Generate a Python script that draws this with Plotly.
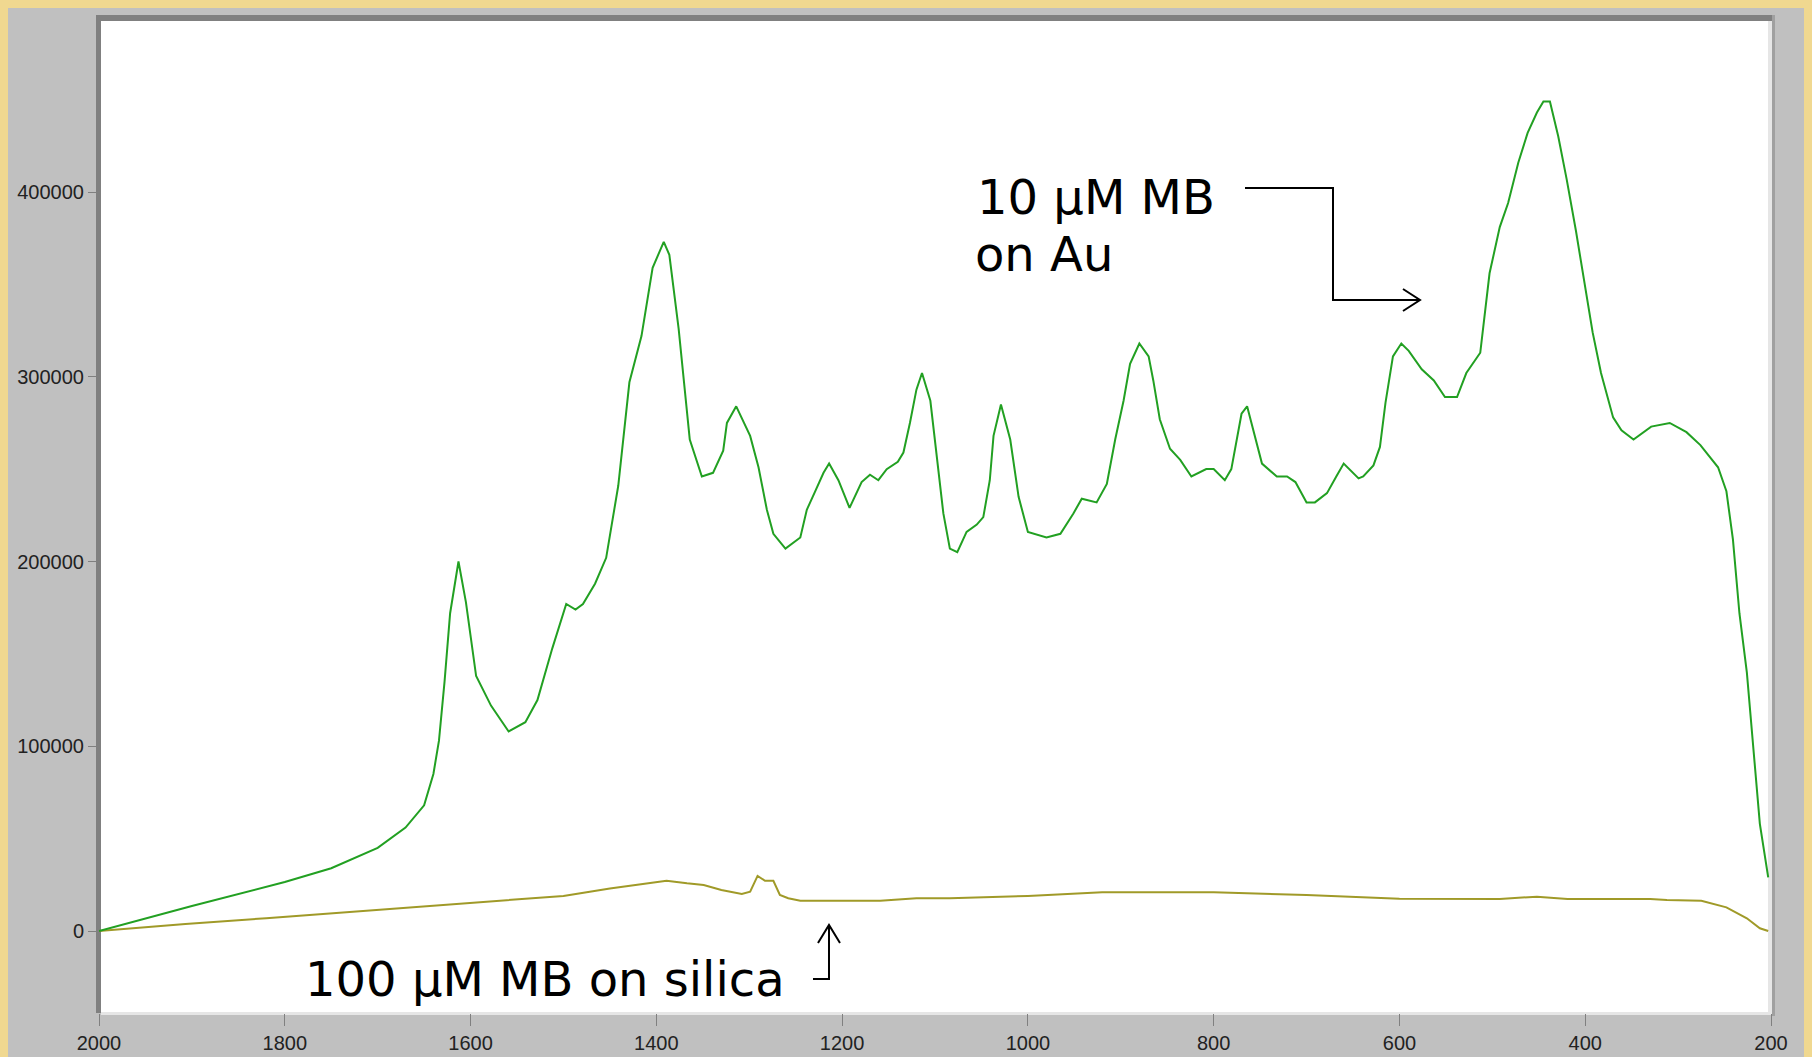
import plotly.graph_objects as go

# ---------------- data ----------------
wavenumber_au = [2000, 1900, 1800, 1750, 1700, 1670, 1650, 1640, 1634, 1628, 1622, 1613,
                 1605, 1594, 1578, 1559, 1541, 1528, 1512, 1497, 1487, 1479, 1466, 1454,
                 1441, 1429, 1416, 1404, 1392, 1386, 1376, 1364, 1351, 1339, 1328, 1324,
                 1314, 1299, 1290, 1281, 1274, 1261, 1245, 1238, 1229, 1220, 1214, 1204,
                 1192, 1179, 1170, 1161, 1152, 1140, 1134, 1127, 1120, 1114, 1105, 1098,
                 1091, 1084, 1076, 1066, 1055, 1048, 1041, 1037, 1029, 1019, 1010, 1000,
                 980, 965, 951, 942, 926, 915, 906, 897, 890, 880, 870, 865, 858, 847, 836,
                 824, 808, 800, 788, 781, 775, 770, 764, 757, 748, 732, 721, 712, 700, 691,
                 678, 668, 660, 644, 639, 628, 621, 615, 607, 598, 590, 576, 563, 551, 538,
                 528, 513, 503, 492, 483, 472, 462, 452, 445, 438, 429, 420, 410, 401, 392,
                 383, 370, 361, 348, 329, 309, 291, 276, 257, 248, 241, 234, 226, 219, 212, 203]
intensity_au = [0, 13500, 26500, 34000, 45000, 56000, 68000, 85000, 103000, 135000, 172000, 200000,
                178000, 138000, 122000, 108000, 113000, 125000, 153000, 177000, 174000, 177000, 188000, 202000,
                241000, 297000, 322000, 359000, 373000, 366000, 326000, 266000, 246000, 248000, 260000, 275000,
                284000, 268000, 251000, 228000, 215000, 207000, 213000, 228000, 238000, 248000, 253000, 244000,
                229000, 243000, 247000, 244000, 250000, 254000, 259000, 275000, 293000, 302000, 287000, 257000,
                226000, 207000, 205000, 216000, 220000, 224000, 244000, 268000, 285000, 266000, 235000, 216000,
                213000, 215000, 226000, 234000, 232000, 242000, 266000, 287000, 307000, 318000, 311000, 298000, 277000, 261000, 255000,
                246000, 250000, 250000, 244000, 250000, 266000, 280000, 284000, 271000, 253000, 246000, 246000, 243000, 232000, 232000,
                237000, 246000, 253000, 245000, 246000, 252000, 262000, 286000, 311000, 318000, 314000, 304000, 298000, 289000, 289000,
                302000, 313000, 356000, 381000, 394000, 416000, 432000, 443000, 449000, 449000, 430000, 407000, 379000, 352000, 324000,
                302000, 278000, 271000, 266000, 273000, 275000, 270000, 263000, 251000, 238000, 212000, 172000, 140000, 100000, 58000, 29000]

wavenumber_si = [2000, 1907, 1820, 1748, 1678, 1600, 1500, 1450, 1407, 1389, 1367, 1349, 1330,
                 1308, 1299, 1291, 1283, 1274, 1267, 1258, 1245, 1159, 1120, 1084, 1000, 920,
                 800, 700, 600, 492, 452, 419, 330, 312, 275, 248, 226, 212, 203]
intensity_si = [0, 3800, 6900, 9600, 12300, 15000, 19000, 23000, 25800, 27200, 25800, 24900, 22200,
                20000, 21300, 29800, 27200, 27200, 19500, 17700, 16400, 16400, 17700, 17700, 19000, 21000,
                21000, 19500, 17500, 17300, 18600, 17300, 17300, 16800, 16400, 12800, 6900, 1500, 0]

x_ticks = [2000, 1800, 1600, 1400, 1200, 1000, 800, 600, 400, 200]
y_ticks = [0, 100000, 200000, 300000, 400000]

label_au_1 = "10 μM MB"
label_au_2 = "on Au"
label_si = "100 μM MB on silica"

# ---------------- layout geometry (screen pixels) ----------------
OFF = 8                      # page body margin of the browser
W, H = 1812 - OFF, 1057 - OFF
ML, MR, MT, MB = 91, 41, 13, 44
PW, PH = W - ML - MR, H - MT - MB
GOLD = "#f0d890"


def px(x):
    return (x - OFF - ML) / PW


def py(y):
    return (H - MB - (y - OFF)) / PH


def rect(x0, y0, x1, y1, color):
    return dict(type="rect", xref="paper", yref="paper", layer="below",
                x0=px(x0), x1=px(x1), y0=py(y1), y1=py(y0),
                fillcolor=color, line=dict(width=0))


def path(points, color="black", width=2):
    d = "M " + " L ".join(f"{px(a):.5f},{py(b):.5f}" for a, b in points)
    return dict(type="path", xref="paper", yref="paper", layer="above",
                path=d, line=dict(color=color, width=width))


fig = go.Figure()
fig.add_trace(go.Scatter(x=wavenumber_si, y=intensity_si, mode="lines",
                         line=dict(color="#a09a28", width=2), showlegend=False))
fig.add_trace(go.Scatter(x=wavenumber_au, y=intensity_au, mode="lines",
                         line=dict(color="#22a022", width=2), showlegend=False))

shapes = [
    rect(7, 6, 1808, 1070, "#c0c0c0"),      # gray panel
    rect(101, 21, 1768, 1012, "#ffffff"),   # white plot area
    rect(96, 15, 101, 1013, "#808080"),     # left sunken border
    rect(96, 15, 1775, 21, "#808080"),      # top sunken border
    rect(1768, 21, 1772, 1015, "#e6e6e6"),  # right light border
    rect(1772, 15, 1775, 1016, "#a0a0a0"),
    rect(101, 1012, 1772, 1015, "#e6e6e6"), # bottom light border
    path([(1245, 188), (1333, 188), (1333, 300), (1420, 300)]),
    path([(1403, 289), (1420, 300), (1403, 311)]),
    path([(813, 979), (829, 979), (829, 925)]),
    path([(818, 943), (829, 925), (840, 943)]),
]

ann_font = dict(family="DejaVu Sans", size=48, color="black")
annotations = [
    dict(text=label_au_1, x=px(975), y=py(197), xref="paper", yref="paper",
         xanchor="left", yanchor="middle", showarrow=False, font=ann_font),
    dict(text=label_au_2, x=px(973), y=py(254), xref="paper", yref="paper",
         xanchor="left", yanchor="middle", showarrow=False, font=ann_font),
    dict(text=label_si, x=px(303), y=py(979), xref="paper", yref="paper",
         xanchor="left", yanchor="middle", showarrow=False, font=ann_font),
]

tick_font = dict(family="Liberation Sans", size=20, color="#222222")
fig.update_layout(
    template="none",
    width=W, height=H,
    margin=dict(l=ML, r=MR, t=MT, b=MB, pad=0, autoexpand=False),
    paper_bgcolor=GOLD,
    plot_bgcolor="rgba(0,0,0,0)",
    shapes=shapes,
    annotations=annotations,
    xaxis=dict(range=[2000, 200], tickvals=x_ticks, ticktext=[str(v) for v in x_ticks],
               automargin=False, showgrid=False, zeroline=False, showline=False,
               ticks="outside", ticklen=12, tickcolor="#808080", tickwidth=1,
               tickfont=tick_font),
    yaxis=dict(range=[-44384, 492557], tickvals=y_ticks, ticktext=[str(v) for v in y_ticks],
               automargin=False, showgrid=False, zeroline=False, showline=False,
               ticks="outside", ticklen=10, tickcolor="#808080", tickwidth=1,
               tickfont=tick_font),
)

fig.write_html("out.html",
               post_script="document.body.style.background='" + GOLD + "';")
